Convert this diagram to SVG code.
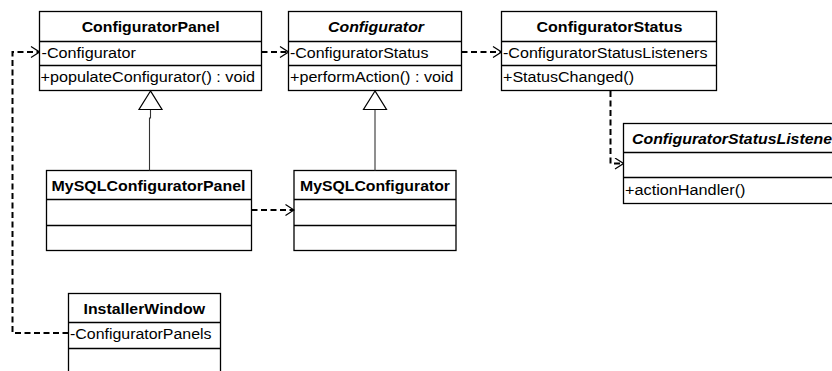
<svg xmlns="http://www.w3.org/2000/svg" width="832" height="371" viewBox="0 0 832 371">
<style>
.box{fill:#fff;stroke:#000;stroke-width:1.3}
.sep{stroke:#000;stroke-width:1.3}
.t{font-family:"Liberation Sans",Arial,sans-serif;font-size:14px;fill:#000}
.b{font-weight:bold}
.bi{font-weight:bold;font-style:italic}
.dep{fill:none;stroke:#000;stroke-width:2;stroke-dasharray:6,3.5;marker-end:url(#open)}
.gen{fill:#fff;stroke:#000;stroke-width:1.2}
.genl{fill:none;stroke:#333;stroke-width:1.1}
</style>
<defs>
<marker id="open" markerUnits="userSpaceOnUse" viewBox="0 0 10 12" refX="9.5" refY="6" markerWidth="10" markerHeight="12" orient="auto">
<path d="M1,0.5 L9.5,6 L1,11.5" fill="none" stroke="#000" stroke-width="1.2"/>
</marker>
</defs>
<rect width="832" height="371" fill="#fff"/>

<g id="ConfiguratorPanel">
<rect class="box" x="39.5" y="11.5" width="222" height="79"/>
<line class="sep" x1="39.5" y1="41.5" x2="261.5" y2="41.5"/>
<line class="sep" x1="39.5" y1="65.5" x2="261.5" y2="65.5"/>
<text class="t b" x="81.7" y="31.5" textLength="138" lengthAdjust="spacingAndGlyphs">ConfiguratorPanel</text>
<text class="t" x="41.5" y="57.5" textLength="94.5" lengthAdjust="spacingAndGlyphs">-Configurator</text>
<text class="t" x="40.5" y="81.5" textLength="214.5" lengthAdjust="spacingAndGlyphs">+populateConfigurator() : void</text>
</g>

<g id="Configurator">
<rect class="box" x="288.5" y="11.5" width="173" height="79"/>
<line class="sep" x1="288.5" y1="41.5" x2="461.5" y2="41.5"/>
<line class="sep" x1="288.5" y1="65.5" x2="461.5" y2="65.5"/>
<text class="t bi" x="328" y="31.5" textLength="96" lengthAdjust="spacingAndGlyphs">Configurator</text>
<text class="t" x="290" y="57.5" textLength="138.5" lengthAdjust="spacingAndGlyphs">-ConfiguratorStatus</text>
<text class="t" x="290" y="81.5" textLength="163.5" lengthAdjust="spacingAndGlyphs">+performAction() : void</text>
</g>

<g id="ConfiguratorStatus">
<rect class="box" x="501.5" y="11.5" width="215" height="79"/>
<line class="sep" x1="501.5" y1="41.5" x2="716.5" y2="41.5"/>
<line class="sep" x1="501.5" y1="65.5" x2="716.5" y2="65.5"/>
<text class="t b" x="536.5" y="31.5" textLength="146" lengthAdjust="spacingAndGlyphs">ConfiguratorStatus</text>
<text class="t" x="503" y="57.5" textLength="204.5" lengthAdjust="spacingAndGlyphs">-ConfiguratorStatusListeners</text>
<text class="t" x="503" y="81.5" textLength="131" lengthAdjust="spacingAndGlyphs">+StatusChanged()</text>
</g>

<g id="MySQLConfiguratorPanel">
<rect class="box" x="46.5" y="170.5" width="205" height="80"/>
<line class="sep" x1="46.5" y1="199.5" x2="251.5" y2="199.5"/>
<line class="sep" x1="46.5" y1="225.5" x2="251.5" y2="225.5"/>
<text class="t b" x="51.5" y="190.5" textLength="194" lengthAdjust="spacingAndGlyphs">MySQLConfiguratorPanel</text>
</g>

<g id="MySQLConfigurator">
<rect class="box" x="294" y="170.5" width="162" height="80"/>
<line class="sep" x1="294" y1="199.5" x2="456" y2="199.5"/>
<line class="sep" x1="294" y1="225.5" x2="456" y2="225.5"/>
<text class="t b" x="300" y="190.5" textLength="150" lengthAdjust="spacingAndGlyphs">MySQLConfigurator</text>
</g>

<g id="ConfiguratorStatusListener">
<rect class="box" x="623.5" y="123.5" width="220" height="80"/>
<line class="sep" x1="623.5" y1="152.5" x2="843.5" y2="152.5"/>
<line class="sep" x1="623.5" y1="177.5" x2="843.5" y2="177.5"/>
<text class="t bi" x="632" y="143.5" textLength="200" lengthAdjust="spacingAndGlyphs">ConfiguratorStatusListene</text>
<text class="t" x="625" y="195" textLength="120.5" lengthAdjust="spacingAndGlyphs">+actionHandler()</text>
</g>

<g id="InstallerWindow">
<rect class="box" x="68.5" y="293.5" width="152" height="90"/>
<line class="sep" x1="68.5" y1="322.5" x2="220.5" y2="322.5"/>
<line class="sep" x1="68.5" y1="348.5" x2="220.5" y2="348.5"/>
<text class="t b" x="83.5" y="313.5" textLength="121.5" lengthAdjust="spacingAndGlyphs">InstallerWindow</text>
<text class="t" x="70" y="339" textLength="141.5" lengthAdjust="spacingAndGlyphs">-ConfiguratorPanels</text>
</g>

<g id="connectors">
<path class="genl" d="M150.5,109.5 V118 H149.5 V170.5"/>
<polygon class="gen" points="150.5,91 139,109.5 162,109.5"/>
<path class="genl" d="M375,109.5 V170.5"/>
<polygon class="gen" points="375,91 363.5,109.5 386.5,109.5"/>
<path class="dep" d="M68.5,333 H12.5 V52 H39.5"/>
<path class="dep" d="M261.5,52 H288.5"/>
<path class="dep" d="M461.5,52 H501.5"/>
<path class="dep" d="M610.5,91 V163.5 H623.5"/>
<path class="dep" d="M251.5,210 H294"/>
</g>
</svg>
